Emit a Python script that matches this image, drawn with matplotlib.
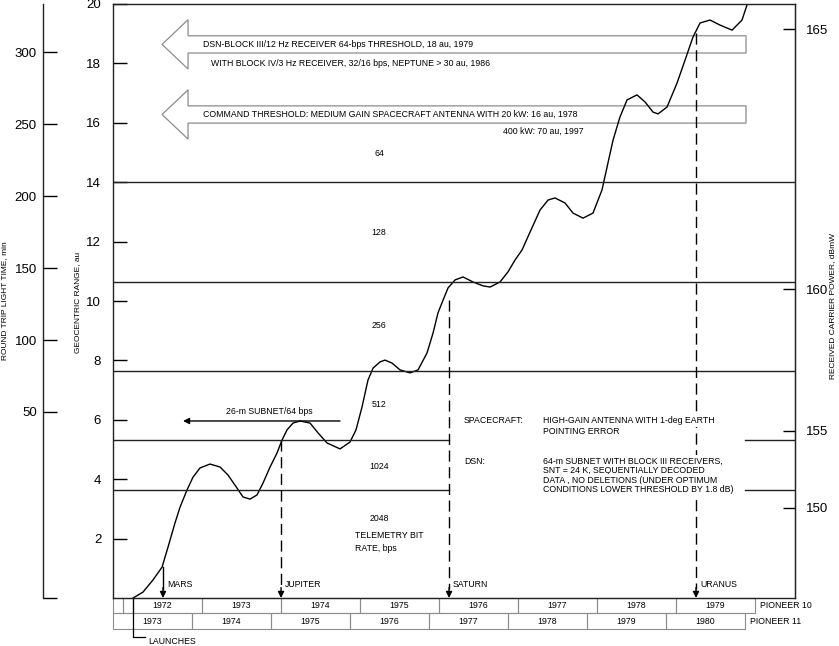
import numpy as np
import matplotlib
matplotlib.use("Agg")
import matplotlib.pyplot as plt
import matplotlib.transforms as mtransforms
from matplotlib.patches import Polygon, Rectangle

plt.rcParams['font.family'] = ['Liberation Sans', 'DejaVu Sans']

# Pioneer 10 geocentric range (au) versus time (years)
years = [1972.127, 1972.253, 1972.380, 1972.494, 1972.570, 1972.658, 1972.722, 1972.810,
         1972.886, 1972.975, 1973.101, 1973.228, 1973.329, 1973.443, 1973.519, 1973.608,
         1973.696, 1973.772, 1973.861, 1973.949, 1974.013, 1974.076, 1974.152, 1974.241,
         1974.367, 1974.468, 1974.582, 1974.747, 1974.873, 1974.949, 1975.025, 1975.101,
         1975.165, 1975.253, 1975.316, 1975.405, 1975.506, 1975.633, 1975.734, 1975.848,
         1975.924, 1975.987, 1976.051, 1976.114, 1976.203, 1976.304, 1976.430, 1976.557,
         1976.646, 1976.772, 1976.873, 1976.962, 1977.051, 1977.152, 1977.278, 1977.380,
         1977.468, 1977.595, 1977.696, 1977.823, 1977.949, 1978.063, 1978.127, 1978.203,
         1978.291, 1978.380, 1978.506, 1978.608, 1978.709, 1978.772, 1978.886, 1979.013,
         1979.114, 1979.215, 1979.304, 1979.430, 1979.557, 1979.709, 1979.835, 1979.899]
range_au = [0.00, 0.20, 0.61, 1.04, 1.72, 2.53, 3.06, 3.64,
            4.07, 4.38, 4.51, 4.41, 4.14, 3.70, 3.40, 3.33,
            3.47, 3.87, 4.41, 4.88, 5.32, 5.66, 5.89, 5.96,
            5.89, 5.56, 5.22, 5.02, 5.25, 5.66, 6.43, 7.34,
            7.74, 7.95, 8.01, 7.91, 7.68, 7.58, 7.68, 8.25,
            8.92, 9.60, 10.03, 10.44, 10.71, 10.81, 10.64, 10.51,
            10.47, 10.64, 10.98, 11.38, 11.72, 12.32, 13.06, 13.40,
            13.47, 13.30, 12.96, 12.79, 12.96, 13.74, 14.51, 15.42,
            16.20, 16.77, 16.94, 16.70, 16.36, 16.30, 16.53, 17.34,
            18.11, 18.89, 19.36, 19.46, 19.29, 19.12, 19.46, 19.97]

# telemetry bit-rate thresholds (au)
full_thresholds = [14.0, 10.64, 7.64]
part_thresholds = [5.32, 3.64]
bit_rates = ['64', '128', '256', '512', '1024', '2048']
bit_rate_y = [14.95, 12.32, 9.16, 6.50, 4.44, 2.69]

planets = ['MARS', 'JUPITER', 'SATURN', 'URANUS']
planet_t = [1972.506, 1974.0, 1976.127, 1979.253]
planet_top = [1.04, 5.32, 10.03, 19.02]

p10_years = [1972, 1973, 1974, 1975, 1976, 1977, 1978, 1979]
p11_years = [1973, 1974, 1975, 1976, 1977, 1978, 1979, 1980]
p10_launch = 1972.127
p11_shift = 1.127

sc_lines = ['HIGH-GAIN ANTENNA WITH 1-deg EARTH', 'POINTING ERROR']
dsn_lines = ['64-m SUBNET WITH BLOCK III RECEIVERS,', 'SNT = 24 K, SEQUENTIALLY DECODED',
             'DATA , NO DELETIONS (UNDER OPTIMUM', 'CONDITIONS LOWER THRESHOLD BY 1.8 dB)']

x0, x1 = 1971.873, 1980.506
W, H = 839, 646
fs = 6.35

fig = plt.figure(figsize=(W / 100, H / 100), dpi=100)
ax = fig.add_axes([113 / W, 1 - 598 / H, 682 / W, 594 / H])
ax.set_xlim(x0, x1)
ax.set_ylim(0, 20)
ax.set_xticks([])
ax.set_yticks(range(2, 21, 2))
ax.tick_params(axis='y', direction='in', length=10, width=1, pad=8.5, labelsize=9.5)
for s in ax.spines.values():
    s.set_linewidth(1)
    s.set_color('#222222')

ax.plot(years, range_au, color='black', lw=1, solid_joinstyle='round')

for y in full_thresholds:
    ax.plot([x0, x1], [y, y], color='#222222', lw=1)
for y in part_thresholds:
    ax.plot([x0, planet_t[2]], [y, y], color='#222222', lw=1)
    ax.plot([1979.873, x1], [y, y], color='#222222', lw=1)

for lab, y in zip(bit_rates, bit_rate_y):
    ax.text(1975.24, y, lab, fontsize=fs, ha='center', va='center')
ax.text(1974.937, 2.12, 'TELEMETRY BIT', fontsize=fs, va='center')
ax.text(1974.937, 1.68, 'RATE, bps', fontsize=fs, va='center')

# big hollow threshold arrows
for yc in [18.64, 16.28]:
    pts = [(1972.494, yc), (1972.823, yc + 0.83), (1972.823, yc + 0.29),
           (1979.886, yc + 0.29), (1979.886, yc - 0.29), (1972.823, yc - 0.29),
           (1972.823, yc - 0.83)]
    ax.add_patch(Polygon(pts, closed=True, fc='white', ec='#8c8c8c', lw=0.9, zorder=1))
ax.text(1973.013, 18.64, 'DSN-BLOCK III/12 Hz RECEIVER 64-bps THRESHOLD, 18 au, 1979',
        fontsize=fs, va='center')
ax.text(1973.114, 18.01, 'WITH BLOCK IV/3 Hz RECEIVER, 32/16 bps, NEPTUNE > 30 au, 1986',
        fontsize=fs, va='center')
ax.text(1973.013, 16.28, 'COMMAND THRESHOLD: MEDIUM GAIN SPACECRAFT ANTENNA WITH 20 kW: 16 au, 1978',
        fontsize=fs, va='center')
ax.text(1976.810, 15.72, '400 kW: 70 au, 1997', fontsize=fs, va='center')

# 26-m subnet arrow
ax.annotate('', xy=(1972.759, 5.96), xytext=(1974.747, 5.96),
            arrowprops=dict(arrowstyle='-|>', color='black', lw=1, mutation_scale=9,
                            shrinkA=0, shrinkB=0))
ax.text(1973.848, 6.27, '26-m SUBNET/64 bps', fontsize=fs, ha='center', va='center')

# planet orbit crossings
for i, (name, t, top) in enumerate(zip(planets, planet_t, planet_top)):
    ls = '-' if i == 0 else (0, (8, 4))
    ax.plot([t, t], [top, 0.3], color='black', lw=1, ls=ls)
    ax.annotate('', xy=(t, 0.0), xytext=(t, 0.35),
                arrowprops=dict(arrowstyle='-|>', color='black', lw=1, mutation_scale=9,
                                shrinkA=0, shrinkB=0))
    ax.text(t + 0.05, 0.44, name, fontsize=fs, va='center')

# spacecraft / DSN notes (white backing hides the dashed line behind them)
box = dict(fc='white', ec='none', pad=1.0)
ax.text(1976.316, 5.96, 'SPACECRAFT:', fontsize=fs, va='center')
for line, y in zip(sc_lines, [5.96, 5.59]):
    ax.text(1977.316, y, line, fontsize=fs, va='center', bbox=box, zorder=5)
ax.text(1976.316, 4.61, 'DSN:', fontsize=fs, va='center')
for line, y in zip(dsn_lines, [4.61, 4.29, 3.97, 3.65]):
    ax.text(1977.316, y, line, fontsize=fs, va='center', bbox=box, zorder=5)

# year strips below the axes
trans = mtransforms.blended_transform_factory(ax.transData, ax.transAxes)
r1_top, r1_bot, r2_bot = 0.0, -15 / 594, -31 / 594
edge = '#8c8c8c'
p10_edges = [x0, 1972.0, p10_launch] + [y + 1 for y in p10_years]
for a, b in zip(p10_edges[:-1], p10_edges[1:]):
    ax.add_patch(Rectangle((a, r1_bot), b - a, r1_top - r1_bot, transform=trans,
                           fc='none', ec=edge, lw=0.8, clip_on=False))
for y in p10_years:
    ax.text(y + 0.5, (r1_top + r1_bot) / 2, str(y), transform=trans, fontsize=fs,
            ha='center', va='center')
ax.text(1980.06, (r1_top + r1_bot) / 2, 'PIONEER 10', transform=trans, fontsize=fs, va='center')

p11_edges = [x0] + [y + 1 - p11_shift for y in p11_years]
for a, b in zip(p11_edges[:-1], p11_edges[1:]):
    ax.add_patch(Rectangle((a, r2_bot), b - a, r1_bot - r2_bot, transform=trans,
                           fc='none', ec=edge, lw=0.8, clip_on=False))
for y in p11_years:
    ax.text(y + 0.5 - p11_shift, (r1_bot + r2_bot) / 2, str(y), transform=trans, fontsize=fs,
            ha='center', va='center')
ax.text(1979.937, (r1_bot + r2_bot) / 2, 'PIONEER 11', transform=trans, fontsize=fs, va='center')

ax.plot([p10_launch, p10_launch, 1972.278], [r1_top, -39 / 594, -39 / 594], transform=trans,
        color='black', lw=0.9, clip_on=False)
ax.text(1972.316, -43 / 594, 'LAUNCHES', transform=trans, fontsize=fs, va='center')

# round trip light time axis (left)
lt = ax.secondary_yaxis(-70 / 682, functions=(lambda r: 20.63 * r - 79.2,
                                               lambda m: (m + 79.2) / 20.63))
lt.set_yticks([-79.2, 50, 100, 150, 200, 250, 300], ['', '50', '100', '150', '200', '250', '300'])
lt.tick_params(direction='in', length=10, width=1, pad=4.5, labelsize=9.5)
lt.spines['left'].set_linewidth(1)
lt.spines['left'].set_color('#222222')

# received carrier power axis (right)
pw = ax.secondary_yaxis('right', functions=(
    lambda r: 18.91 * np.log10(np.clip(r, 0.05, None)) + 140.75,
    lambda d: 10 ** ((d - 140.75) / 18.91)))
pw.set_yticks([150, 155, 160, 165])
pw.tick_params(direction='in', length=9, width=1, pad=8, labelsize=9.5)

fig.text(5 / W, 1 - 301 / H, 'ROUND TRIP LIGHT TIME, min', rotation=90, fontsize=6,
         ha='center', va='center')
fig.text(78 / W, 1 - 302 / H, 'GEOCENTRIC RANGE, au', rotation=90, fontsize=6,
         ha='center', va='center')
fig.text(833 / W, 1 - 306 / H, 'RECEIVED CARRIER POWER, dBmW', rotation=90, fontsize=6,
         ha='center', va='center')

fig.savefig('out.png', dpi=100)
